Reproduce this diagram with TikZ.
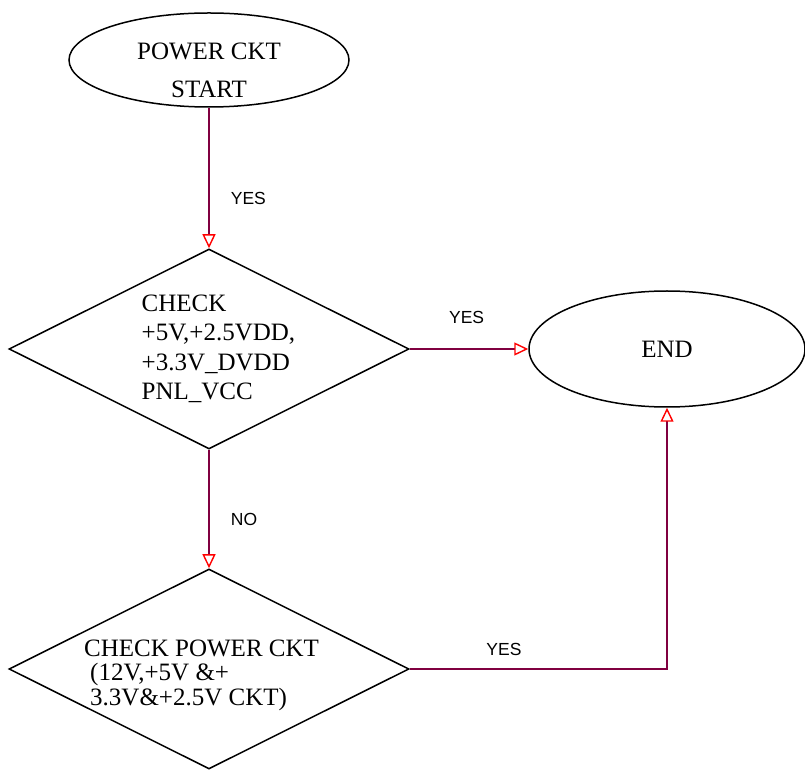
\documentclass[tikz,border=0pt]{standalone}
\usepackage{fontspec}
\setmainfont{Liberation Serif}
\newfontfamily\lblfont{Liberation Sans}
\usepackage{tikz}
\usetikzlibrary{arrows.meta,positioning,shapes.geometric}
\definecolor{fline}{RGB}{128,0,64}
\definecolor{ftip}{RGB}{255,0,0}
\tikzset{
  term/.style  ={ellipse, draw=black, line width=1.5pt, inner sep=0pt,
                 font=\fontsize{25}{30}\selectfont, align=center},
  decide/.style={diamond, draw=black, line width=1.5pt, inner sep=0pt,
                 minimum width=400pt, minimum height=200pt},
  txt/.style   ={inner sep=0pt, align=left, anchor=base west,
                 font=\fontsize{25}{29.5}\selectfont},
  ar/.style    ={-{Triangle[open, length=14pt, width=13pt, color=ftip, line width=1.4pt]},
                 draw=fline, line width=1.8pt},
  lbl/.style   ={font=\lblfont\fontsize{17.5}{20}\selectfont, inner sep=0pt}
}
\begin{document}
\begin{tikzpicture}[x=1pt,y=1pt]
\useasboundingbox (0,0) rectangle (805,769);
\node[term, minimum width=280pt, minimum height=94pt] (start) at (209,709) {};
\node[txt, align=center, anchor=base, font=\fontsize{25}{38}\selectfont] (starttxt)
  at (209,671) {POWER CKT\\START};
\node[decide] (chk1) at (209,420) {};
\node[txt] (chk1txt) at (141.5,369) {CHECK\\+5V,+2.5VDD,\\+3.3V\_DVDD\\PNL\_VCC};
\node[term, minimum width=276pt, minimum height=116pt] (end) at (667,420) {END};
\node[decide] (chk2) at (209,100) {};
\node[txt, font=\fontsize{25}{24.5}\selectfont] (chk2txt) at (84,64)
  {CHECK POWER CKT\\\hspace*{6pt}(12V,+5V \&+\\\hspace*{6pt}3.3V\&+2.5V CKT)};
\draw[ar] (start) -- node[lbl, pos=0.645, right=21pt]{YES} (chk1);
\draw[ar] (chk1) -- node[lbl, pos=0.48, above=24pt]{YES} (end);
\draw[ar] (chk1) -- node[lbl, pos=0.587, right=21pt]{NO} (chk2);
\draw[ar] (chk2) -| node[lbl, pos=0.183, above=12pt]{YES} (end);
\end{tikzpicture}
\end{document}
